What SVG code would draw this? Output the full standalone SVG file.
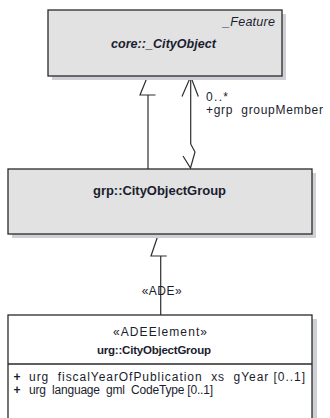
<svg xmlns="http://www.w3.org/2000/svg" width="330" height="418" viewBox="0 0 330 418">
<style>
.box{stroke:#2a2a2a;stroke-width:1.3}
.shadow{fill:#cfcfd6}
.t{font-family:"Liberation Sans",Arial,sans-serif;fill:#1a1d2e}
.c{stroke:#2e2e2e;stroke-width:1.2;fill:none}
</style>
<rect width="330" height="418" fill="#ffffff"/>
<g id="connectors">
<line class="c" x1="148" y1="95" x2="148" y2="169"/>
<polyline class="c" points="147.5,76.5 140,95 155.5,95"/>
<line class="c" x1="190.7" y1="76.5" x2="190.7" y2="144"/>
<polyline class="c" points="182,96.5 190.7,76.5 198.3,96.5"/>
<polyline class="c" points="190.7,144 195,152 190.5,168 183,156"/>
<line class="c" x1="160.7" y1="256" x2="160.7" y2="315"/>
<polyline class="c" points="158.3,234.5 151,256 166.7,256"/>
<text class="t" x="206" y="100.5" font-size="12" textLength="22" lengthAdjust="spacing">0..*</text>
<text class="t" x="206" y="113.5" font-size="12" textLength="117" lengthAdjust="spacing" xml:space="preserve">+grp  groupMember</text>
<text class="t" x="161.7" y="294.5" font-size="12" text-anchor="middle" textLength="40" lengthAdjust="spacing">«ADE»</text>
</g>
<g id="core_CityObject">
<rect class="shadow" x="52" y="14" width="234" height="66"/>
<rect class="box" x="48" y="10" width="234" height="66" fill="#e2e2e2"/>
<text class="t" x="275" y="26" font-size="12.5" font-style="italic" text-anchor="end" textLength="52" lengthAdjust="spacing">_Feature</text>
<text class="t" x="163.5" y="48" font-size="12.5" font-style="italic" font-weight="bold" text-anchor="middle" textLength="105" lengthAdjust="spacing">core::_CityObject</text>
</g>
<g id="grp_CityObjectGroup">
<rect class="shadow" x="12" y="173" width="304" height="65"/>
<rect class="box" x="8" y="169" width="304" height="65" fill="#e2e2e2"/>
<text class="t" x="159.5" y="194.5" font-size="13" font-weight="bold" text-anchor="middle" textLength="133" lengthAdjust="spacing">grp::CityObjectGroup</text>
</g>
<g id="urg_CityObjectGroup">
<rect class="shadow" x="312" y="319" width="5" height="110"/>
<rect class="box" x="8" y="315" width="304" height="110" fill="#ffffff"/>
<line class="box" x1="8" y1="364" x2="312" y2="364"/>
<text class="t" x="160" y="335.5" font-size="12" text-anchor="middle" textLength="94" lengthAdjust="spacing">«ADEElement»</text>
<text class="t" x="154" y="353.5" font-size="11.5" font-weight="bold" text-anchor="middle" textLength="114" lengthAdjust="spacing">urg::CityObjectGroup</text>
<text class="t" x="17" y="380.5" font-size="12" font-weight="bold" text-anchor="middle">+</text>
<text class="t" x="29" y="380.5" font-size="12" textLength="276" lengthAdjust="spacing" xml:space="preserve">urg  fiscalYearOfPublication  xs  gYear [0..1]</text>
<text class="t" x="17" y="393.5" font-size="12" font-weight="bold" text-anchor="middle">+</text>
<text class="t" x="29" y="393.5" font-size="12" textLength="184" lengthAdjust="spacing" xml:space="preserve">urg  language  gml  CodeType [0..1]</text>
</g>
</svg>
